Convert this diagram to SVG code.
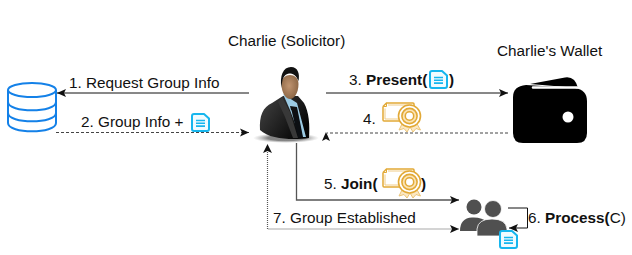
<svg xmlns="http://www.w3.org/2000/svg" xmlns:xlink="http://www.w3.org/1999/xlink" width="632" height="255" viewBox="0 0 632 255">
  <style>
    text { font-family: "Liberation Sans", Arial, sans-serif; font-size: 15.3px; fill: #111; }
    .b { font-weight: bold; }
    .edge { fill: none; stroke: #111; stroke-width: 1; }
    .dash { stroke-dasharray: 3 2; stroke: #444; }
    .dot { stroke-dasharray: 1 1; stroke: #555; stroke-width: 1.2; }
    .gray { stroke: #555; stroke-width: 1.3; }
    .db { fill: #fff; stroke: #1481e8; stroke-width: 2; }
  </style>
  <defs>
    <marker id="head" markerWidth="10" markerHeight="10" refX="9" refY="5" orient="auto" markerUnits="userSpaceOnUse">
      <path d="M0 1 L9 5 L0 9 L2 5 Z" fill="#111"/>
    </marker>
    <symbol id="doc" viewBox="0 0 19 19" overflow="visible">
      <path d="M3 1 H13 L18 5.500 V16 Q18 18 16 18 H3 Q1 18 1 16 V3 Q1 1 3 1 Z" fill="#f0fbff" stroke="#16b6ee" stroke-width="2" stroke-linejoin="round"/>
      <path d="M5 7.500 H14 M5 10.300 H14 M5 13.100 H14" stroke="#16b6ee" stroke-width="1.600" fill="none"/>
    </symbol>
    <symbol id="cert" viewBox="0 0 39 30" overflow="visible">
      <path d="M1 4.500 L4.500 1 H31 Q32 1 32 2 V5 M24 19 H2 Q1 19 1 18 V4.500" fill="none" stroke="#e2a936" stroke-width="1.500"/>
      <path d="M4.500 1 V4.500 H1" fill="none" stroke="#e2a936" stroke-width="1"/>
      <path d="M6 3 H30 M3 6.500 V17 H20" fill="none" stroke="#eec67a" stroke-width=".9"/>
      <path d="M21 20 L17 28 L22 26.500 L25 30 L28 25 L31 30 L34 26.500 L38.500 28 L34 20 Z" fill="#fbe8c4" stroke="#ecc477" stroke-width="1"/>
      <circle cx="27.500" cy="14" r="11" fill="#fff" stroke="#e2a936" stroke-width="1.600"/>
      <circle cx="27.500" cy="14" r="7.600" fill="#fbe3b4" stroke="#e2a936" stroke-width="1.600"/>
      <circle cx="27.500" cy="14" r="4.200" fill="#fff" stroke="#e2a936" stroke-width="1.500"/>
    </symbol>
    <linearGradient id="suit" x1="0" y1="0" x2="1" y2="0.6">
      <stop offset="0" stop-color="#444"/>
      <stop offset="0.55" stop-color="#222"/>
      <stop offset="1" stop-color="#060606"/>
    </linearGradient>
    <radialGradient id="face" cx="0.45" cy="0.45" r="0.65">
      <stop offset="0" stop-color="#c09470"/>
      <stop offset="1" stop-color="#85603f"/>
    </radialGradient>
    <radialGradient id="shade" cx="0.5" cy="0.5" r="0.5">
      <stop offset="0.55" stop-color="#777" stop-opacity=".9"/>
      <stop offset="1" stop-color="#aaa" stop-opacity="0"/>
    </radialGradient>
  </defs>

  <g id="connectors">
    <path class="edge" d="M249 93 H57" marker-end="url(#head)"/>
    <path class="edge dash" d="M56 132.500 H249" marker-end="url(#head)"/>
    <path class="edge" d="M326 93 H508" marker-end="url(#head)"/>
    <path class="edge dash" d="M508 133 H327"/>
    <path d="M326 132 L330 141 L326 139 L322 141 Z" fill="#111"/>
    <path class="edge gray" d="M296.500 143 V200 H459" marker-end="url(#head)"/>
    <path class="edge dot" d="M267.500 152 V229 H459" marker-end="url(#head)"/>
    <path d="M267.500 144 L272 153 L267.500 151 L263 153 Z" fill="#111"/>
    <path class="edge" d="M508 208 H527.500 V228 H509" marker-end="url(#head)"/>
  </g>

  <g id="registry">
    <path class="db" d="M8 91 V123 C8 134 56 134 56 123 V91 Z"/>
    <path class="db" style="fill:none" d="M8 102 C8 113 56 113 56 102 M8 113 C8 124 56 124 56 113"/>
    <ellipse class="db" cx="32" cy="90" rx="24" ry="7"/>
  </g>

  <g id="solicitor">
    <text x="228" y="46">Charlie (Solicitor)</text>
    <ellipse cx="286" cy="138" rx="33" ry="5" fill="url(#shade)"/>
    <path d="M260 130 C259 116 263 107 272 103 L283 96 H298 L304 103 C309 112 310 125 309 138 C295 140 270 140 260 130 Z" fill="url(#suit)"/>
    <path d="M283 94 L297 103 L306 137 H300 L290 110 Z" fill="#9ccbe4"/>
    <path d="M291 108 L297 107 L303 137 L298 138 Z" fill="#0c0f13"/>
    <path d="M290 106 L297 107 L295 111 L291 110 Z" fill="#111"/>
    <path d="M282 97 L290 112 L298 138 L293 138 L285 117 L278 102 Z" fill="#383838"/>
    <path d="M281.500 84 C281.500 72 298.500 72 298.500 84 C298.500 93 294 99 290 99 C286 99 281.500 93 281.500 84 Z" fill="url(#face)"/>
    <path d="M281.500 88 C279.500 76 283 67 291 67 C298 67 300 74 298.500 81 C296 75 293 73.500 289 73.500 C284 74 282 79 281.500 88 Z" fill="#111"/>
  </g>

  <g id="wallet">
    <text x="497" y="56">Charlie's Wallet</text>
    <path d="M530 84 L565 77.500 Q575 76 578 88 Z" fill="#000"/>
    <path d="M526 85 L575 88 Q587 90 587 101 V133 Q587 143 577 143 H523 Q513 143 513 133 V97 Q513 86 526 85 Z" fill="#000"/>
    <path d="M533 87.500 H577" stroke="#fff" stroke-width="2.500" stroke-linecap="round" fill="none"/>
    <circle cx="568" cy="117" r="5.500" fill="#fff"/>
  </g>

  <g id="group">
    <circle cx="474" cy="207" r="7.500" fill="#505050"/>
    <path d="M460 231 Q460 218 472 217.500 Q482 217 487 222 L478 231 Z" fill="#505050"/>
    <circle cx="493" cy="209" r="8.500" fill="#505050" stroke="#fff" stroke-width=".8"/>
    <path d="M477 236 V229 Q478 219 492 219 Q506 219 507 229 V236 Z" fill="#505050" stroke="#fff" stroke-width=".8"/>
    <use xlink:href="#doc" href="#doc" x="499" y="230" width="19" height="19"/>
  </g>

  <g id="labels">
    <text x="69" y="88">1. Request Group Info</text>
    <text x="81" y="127">2. Group Info +</text>
    <use xlink:href="#doc" href="#doc" x="191" y="113" width="19" height="19"/>
    <text x="349" y="85">3. <tspan class="b">Present(</tspan></text>
    <use xlink:href="#doc" href="#doc" x="429" y="70" width="19" height="19"/>
    <text x="449" y="85" class="b">)</text>
    <text x="363" y="124">4.</text>
    <use xlink:href="#cert" href="#cert" x="382" y="102" width="39" height="30"/>
    <text x="324" y="189">5. <tspan class="b">Join(</tspan></text>
    <use xlink:href="#cert" href="#cert" x="382" y="168" width="39" height="30"/>
    <text x="421" y="189" class="b">)</text>
    <text x="528" y="223">6. <tspan class="b">Process(</tspan>C)</text>
    <text x="273" y="223">7. Group Established</text>
  </g>
</svg>
